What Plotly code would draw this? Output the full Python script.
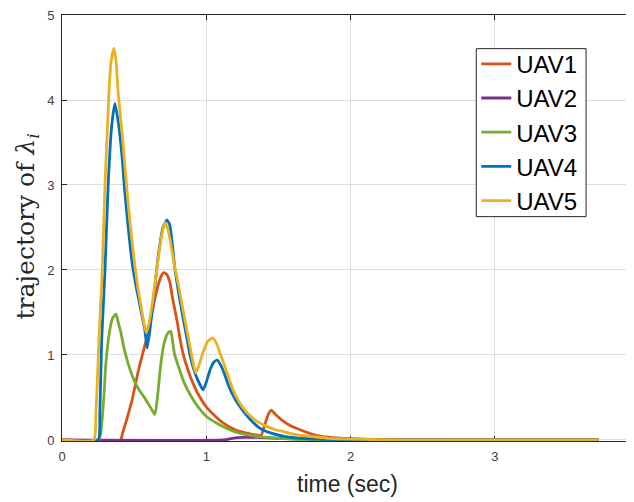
import plotly.graph_objects as go

# ---- data ----
t_uav1 = [0, 0.405, 0.42, 0.45, 0.48, 0.505, 0.53, 0.56, 0.597, 0.63, 0.66, 0.685, 0.705, 0.725, 0.747, 0.765, 0.78, 0.80, 0.815, 0.84, 0.87, 0.91, 0.95, 1.0, 1.05, 1.116, 1.2, 1.28, 1.34, 1.38, 1.40, 1.43, 1.45, 1.48, 1.52, 1.58, 1.65, 1.73, 1.81, 1.9, 2.0, 2.2, 2.5, 3.72]
v_uav1 = [0, 0, 0.08, 0.25, 0.43, 0.62, 0.82, 1.02, 1.26, 1.55, 1.78, 1.92, 1.97, 1.95, 1.86, 1.68, 1.55, 1.38, 1.22, 1.01, 0.84, 0.66, 0.52, 0.39, 0.30, 0.20, 0.12, 0.08, 0.06, 0.055, 0.15, 0.30, 0.35, 0.30, 0.24, 0.17, 0.12, 0.07, 0.04, 0.025, 0.015, 0.005, 0, 0]

t_uav2 = [0, 1.12, 1.17, 1.2, 1.25, 1.35, 1.5, 1.7, 2.0, 3.72]
v_uav2 = [0, 0, 0.015, 0.025, 0.03, 0.03, 0.02, 0.01, 0.003, 0]

t_uav3 = [0, 0.255, 0.27, 0.29, 0.304, 0.33, 0.35, 0.374, 0.39, 0.406, 0.43, 0.459, 0.50, 0.53, 0.567, 0.60, 0.625, 0.644, 0.662, 0.685, 0.71, 0.735, 0.754, 0.765, 0.78, 0.81, 0.85, 0.90, 0.943, 1.0, 1.07, 1.15, 1.23, 1.32, 1.42, 1.6, 1.8, 2.0, 3.72]
v_uav3 = [0, 0, 0.1, 0.5, 0.9, 1.28, 1.43, 1.48, 1.38, 1.28, 1.08, 0.895, 0.70, 0.60, 0.51, 0.42, 0.35, 0.30, 0.51, 0.895, 1.15, 1.26, 1.28, 1.18, 1.01, 0.85, 0.66, 0.50, 0.39, 0.28, 0.20, 0.13, 0.08, 0.05, 0.03, 0.01, 0.003, 0, 0]

t_uav4 = [0, 0.25, 0.262, 0.275, 0.298, 0.32, 0.344, 0.367, 0.394, 0.418, 0.431, 0.459, 0.489, 0.52, 0.55, 0.574, 0.59, 0.61, 0.64, 0.67, 0.70, 0.727, 0.747, 0.765, 0.78, 0.80, 0.83, 0.86, 0.886, 0.91, 0.94, 0.978, 1.00, 1.03, 1.055, 1.077, 1.10, 1.13, 1.15, 1.20, 1.27, 1.30, 1.37, 1.45, 1.55, 1.7, 1.9, 2.2, 3.72]
v_uav4 = [0, 0, 0.3, 1.17, 2.0, 3.0, 3.69, 3.96, 3.69, 3.30, 3.0, 2.5, 2.05, 1.75, 1.5, 1.3, 1.08, 1.3, 1.75, 2.2, 2.5, 2.59, 2.53, 2.3, 2.05, 1.82, 1.52, 1.25, 1.01, 0.85, 0.71, 0.59, 0.68, 0.84, 0.92, 0.94, 0.88, 0.76, 0.66, 0.48, 0.31, 0.25, 0.14, 0.08, 0.04, 0.015, 0.005, 0, 0]

t_uav5 = [0, 0.22, 0.235, 0.256, 0.279, 0.298, 0.325, 0.34, 0.36, 0.375, 0.39, 0.42, 0.447, 0.475, 0.505, 0.527, 0.55, 0.583, 0.60, 0.63, 0.66, 0.69, 0.713, 0.73, 0.75, 0.78, 0.81, 0.84, 0.87, 0.897, 0.915, 0.927, 0.95, 0.98, 1.01, 1.043, 1.07, 1.10, 1.13, 1.17, 1.21, 1.25, 1.30, 1.36, 1.42, 1.48, 1.53, 1.60, 1.68, 1.76, 1.85, 2.0, 2.2, 2.5, 3.72]
v_uav5 = [0, 0, 0.3, 1.17, 2.0, 3.0, 4.07, 4.45, 4.61, 4.45, 4.07, 3.55, 3.0, 2.5, 2.05, 1.78, 1.55, 1.26, 1.35, 1.65, 2.05, 2.4, 2.56, 2.5, 2.35, 2.05, 1.8, 1.52, 1.25, 1.01, 0.86, 0.79, 0.88, 1.04, 1.16, 1.20, 1.14, 1.0, 0.86, 0.66, 0.5, 0.39, 0.29, 0.21, 0.16, 0.12, 0.10, 0.07, 0.05, 0.035, 0.02, 0.01, 0.003, 0, 0]

series_names = ["UAV1", "UAV2", "UAV3", "UAV4", "UAV5"]
series_t = [t_uav1, t_uav2, t_uav3, t_uav4, t_uav5]
series_v = [v_uav1, v_uav2, v_uav3, v_uav4, v_uav5]
colors = ["#D95319", "#7E2F8E", "#77AC30", "#0072BD", "#EDB120"]

x_ticks = [0, 1, 2, 3]
y_ticks = [0, 1, 2, 3, 4, 5]

fig = go.Figure()
for name, t, v, c in zip(series_names, series_t, series_v, colors):
    fig.add_trace(go.Scatter(
        x=t, y=v, mode="lines", name=name, legendgroup=name,
        line=dict(color=c, width=2.8, shape="spline", smoothing=0.5),
    ))

axis_common = dict(
    showline=True, linecolor="#262626", linewidth=1, mirror="ticks",
    ticks="inside", ticklen=5, tickcolor="#262626", layer="below traces",
    showgrid=True, gridcolor="#dedede", gridwidth=1, zeroline=False,
    ticklabeloverflow="allow",
    tickfont=dict(family="Liberation Sans, Arial, sans-serif", size=13, color="#404040"),
)

fig.update_layout(
    width=626, height=494, autosize=False,
    margin=dict(l=54, r=0, t=2, b=61),
    paper_bgcolor="white", plot_bgcolor="white",
    xaxis=dict(range=[0, 3.958], tickvals=x_ticks, ticklabelstandoff=3, **axis_common),
    yaxis=dict(range=[-0.012, 5], tickvals=y_ticks, ticklabelstandoff=4, **axis_common),
    shapes=[
        dict(type="rect", xref="paper", yref="paper", x0=0.7255, x1=0.9178,
             y0=0.5267, y1=0.921, layer="above", fillcolor="white",
             line=dict(color="#262626", width=1)),
    ],
    legend=dict(
        x=0.7255, y=0.9373, xanchor="left", yanchor="top",
        bgcolor="rgba(0,0,0,0)", borderwidth=0,
        font=dict(family="Liberation Sans, Arial, sans-serif", size=24, color="#000000"),
        itemwidth=30, tracegroupgap=0,
    ),
    annotations=[
        dict(text="time (sec)", xref="paper", yref="paper", x=0.5, y=-0.0998,
             xanchor="center", yanchor="middle", showarrow=False,
             font=dict(family="Liberation Sans, Arial, sans-serif", size=23, color="#262626")),
        dict(text="trajectory of <i>λ<sub>i</sub></i>", xref="paper", yref="paper",
             x=-0.063, y=0.5035, xanchor="center", yanchor="middle", textangle=-90,
             showarrow=False,
             font=dict(family="DejaVu Serif, serif", size=25, color="#262626")),
    ],
)

fig.write_html("out.html")
